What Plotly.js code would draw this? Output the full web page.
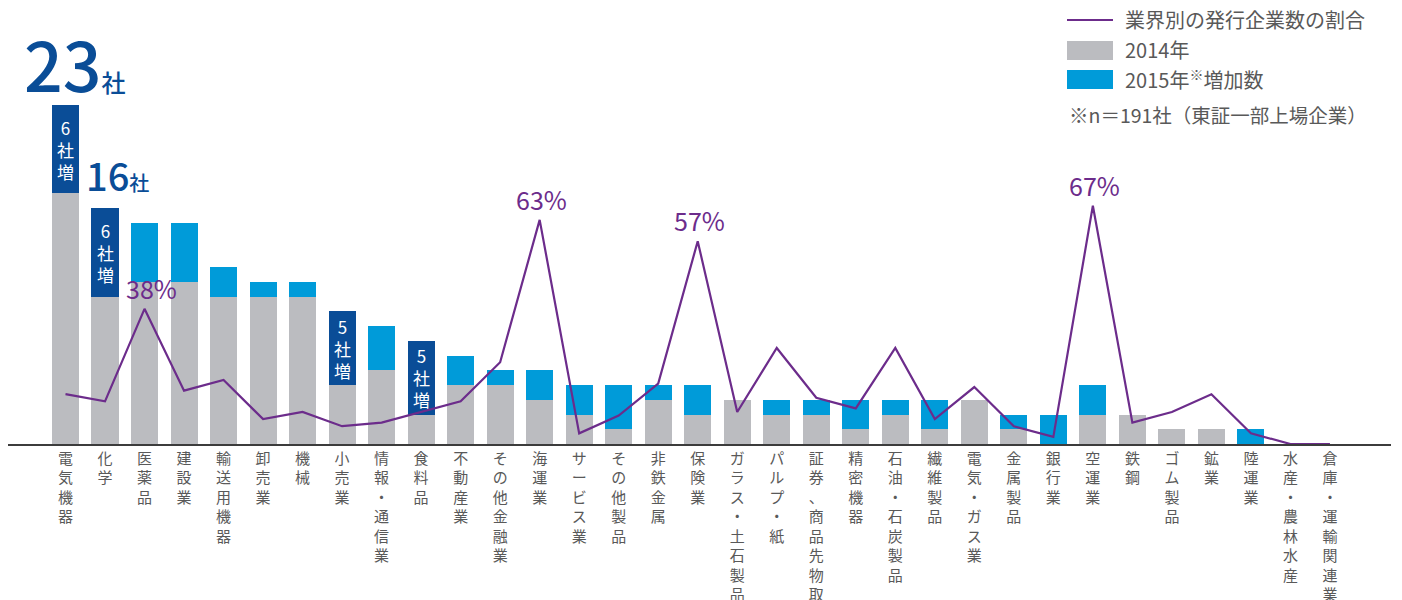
<!DOCTYPE html>
<html>
<head>
<meta charset="utf-8">
<script src="https://cdn.plot.ly/plotly-3.0.1.min.js"></script>
<style>
html,body{margin:0;padding:0;background:#fff;}
#chart{width:1402px;height:600px;}
</style>
</head>
<body>
<div id="chart"></div>
<script>
// ---- data ----
const categories = ["電気機器","化学","医薬品","建設業","輸送用機器","卸売業","機械","小売業","情報・通信業","食料品","不動産業","その他金融業","海運業","サービス業","その他製品","非鉄金属","保険業","ガラス・土石製品","パルプ・紙","証券、商品先物取引業","精密機器","石油・石炭製品","繊維製品","電気・ガス業","金属製品","銀行業","空運業","鉄鋼","ゴム製品","鉱業","陸運業","水産・農林水産","倉庫・運輸関連業"];
const count2014 = [17,10,11,11,10,10,10,4,5,2,4,4,3,2,1,3,2,3,2,2,1,2,1,3,1,0,2,2,1,1,0,0,0];
const increase2015 = [6,6,4,4,2,1,1,5,3,5,2,1,2,2,3,1,2,0,1,1,2,1,2,0,1,2,2,0,0,0,1,0,0];
const shareRatio = [14,12,38,15,18,7,9,5,6,9,12,23,63,3,8,17,57,9,27,13,10,27,7,16,5,2,67,6,9,14,3,0,0];
const highlightedIdx = [0,1,7,9];
const pctLabelIdx = [2,12,16,26];
const legendLabels = ["業界別の発行企業数の割合","2014年","2015年<sup>※</sup>増加数"];
const noteText = "※n＝191社（東証一部上場企業）";

// ---- style ----
const GRAY = "#bbbcc0", LIGHT = "#009bd9", DARK = "#0a4d97", PURPLE = "#6c2c8b", TXT = "#595959";
const FONT = "'Noto Sans CJK JP','Noto Sans',sans-serif";

const incColors = increase2015.map((v,i)=> highlightedIdx.includes(i) ? DARK : LIGHT);
const tickText = categories.map(c => Array.from(c).join("<br>"));

const traces = [
  {type:"bar", x:categories, y:count2014, marker:{color:GRAY}, hoverinfo:"skip"},
  {type:"bar", x:categories, y:increase2015, marker:{color:incColors}, hoverinfo:"skip"},
  {type:"scatter", mode:"lines", x:categories, y:shareRatio, yaxis:"y2",
   line:{color:PURPLE, width:2.2}, hoverinfo:"skip", cliponaxis:false}
];

const annotations = [];
// inside-bar labels
highlightedIdx.forEach(i=>{
  annotations.push({x:categories[i], y:count2014[i]+increase2015[i]/2, xref:"x", yref:"y",
    text:`${increase2015[i]}<br>社<br>増`, showarrow:false, yanchor:"middle", xanchor:"center",
    font:{family:FONT, size:17, color:"#ffffff"}});
});
// big totals
[[0,68,24,10,-9],[1,38,20,12,4]].forEach(([i,big,small,xs,ys])=>{
  annotations.push({x:categories[i], y:count2014[i]+increase2015[i], xref:"x", yref:"y",
    text:`${count2014[i]+increase2015[i]}<span style="font-size:${small}px">社</span>`,
    showarrow:false, yanchor:"bottom", xanchor:"center", xshift:xs, yshift:ys,
    font:{family:FONT, size:big, color:DARK, weight:500}});
});
// percentage labels
pctLabelIdx.forEach(i=>{
  annotations.push({x:categories[i], y:shareRatio[i], xref:"x", yref:"y2",
    text:`${shareRatio[i]}%`, showarrow:false, yanchor:"bottom", xanchor:"center",
    xshift: i===2 ? 7 : 2, yshift:1,
    font:{family:FONT, size:25, color:PURPLE}});
});
// legend texts
const legY = [20, 50, 79];
legendLabels.forEach((t,k)=>{
  annotations.push({x:1123, y:legY[k], xref:"paper", yref:"paper", text:t, showarrow:false,
    xanchor:"left", yanchor:"middle", font:{family:FONT, size:20, color:TXT}});
});
annotations.push({x:1067, y:114, xref:"paper", yref:"paper", text:noteText, showarrow:false, xanchor:"left", yanchor:"middle",
  font:{family:FONT, size:19.5, color:TXT}});

// convert pixel coordinates for legend items into paper coords
const W=1402, H=600, M={l:8,r:11,t:60,b:156};
const pw=W-M.l-M.r, ph=H-M.t-M.b;
const px = x => (x-M.l)/pw;
const py = y => (H-M.b-y)/ph;
annotations.forEach(a=>{ if(a.xref==="paper"){a.x=px(a.x);a.y=py(a.y);} });

const shapes = [
  {type:"line", xref:"paper", yref:"paper", x0:px(1067), x1:px(1113), y0:py(20), y1:py(20), line:{color:PURPLE,width:2.2}},
  {type:"rect", xref:"paper", yref:"paper", x0:px(1067), x1:px(1113), y0:py(41), y1:py(60), fillcolor:GRAY, line:{width:0}},
  {type:"rect", xref:"paper", yref:"paper", x0:px(1067), x1:px(1113), y0:py(70), y1:py(89), fillcolor:LIGHT, line:{width:0}}
];

const layout = {
  width:W, height:H, margin:M, paper_bgcolor:"#fff", plot_bgcolor:"#fff",
  showlegend:false, barmode:"stack", bargap:0.315,
  font:{family:FONT, color:TXT},
  xaxis:{type:"category", range:[-1.455,33.545], tickmode:"array", tickvals:categories, ticktext:tickText,
    tickangle:0, ticks:"", showline:true, linecolor:"#3c3c3c", linewidth:1.5, showgrid:false, zeroline:false,
    tickfont:{family:FONT, size:15, color:TXT}, fixedrange:true},
  yaxis:{range:[0, ph/14.75], visible:false, showgrid:false, zeroline:false, fixedrange:true},
  yaxis2:{range:[0, ph/3.557], overlaying:"y", visible:false, showgrid:false, zeroline:false, fixedrange:true},
  annotations, shapes
};

Plotly.newPlot("chart", traces, layout, {staticPlot:true});
</script>
</body>
</html>
